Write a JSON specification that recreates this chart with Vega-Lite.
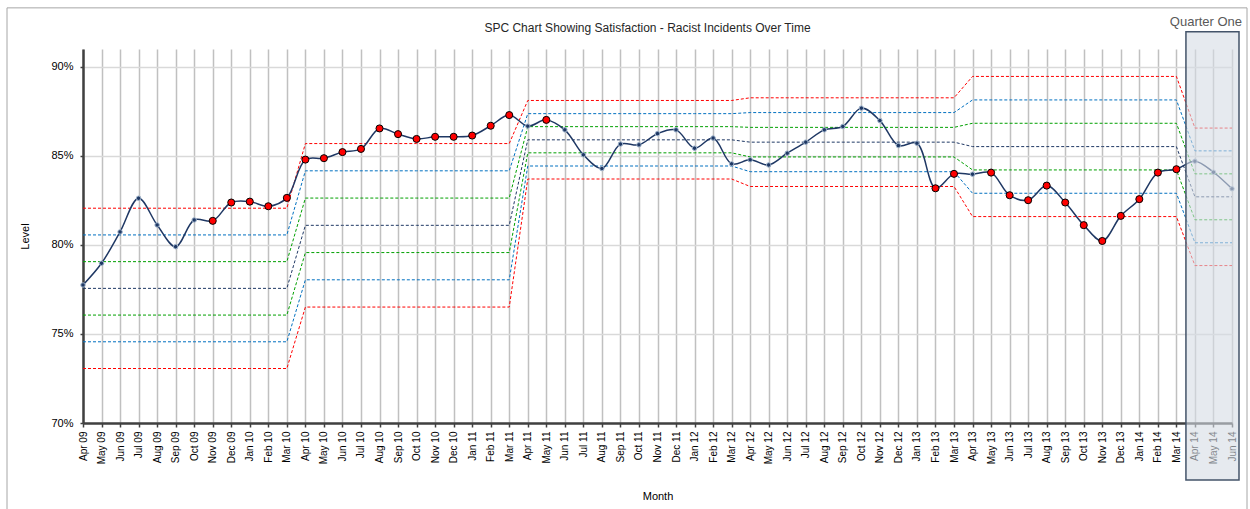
{
  "$schema": "https://vega.github.io/schema/vega-lite/v6.json",
  "width": 1149,
  "height": 374,
  "autosize": "none",
  "padding": {"left": 83, "top": 49, "right": 18, "bottom": 86},
  "background": "white",
  "config": {"view": {"stroke": null}, "font": "Liberation Sans"},
  "title": {"text": "SPC Chart Showing Satisfaction - Racist Incidents Over Time", "fontSize": 12, "font": "Liberation Sans", "fontWeight": "normal", "color": "#262626", "offset": 0, "dy": 28, "dx": -10},
  "datasets": {
    "spc": [
      {"month":"Apr 09","level":77.75,"flag":"n","UCL":82.06,"U2":80.56,"U1":79.06,"Mean":77.56,"L1":76.06,"L2":74.56,"LCL":73.06},
      {"month":"May 09","level":78.97,"flag":"n","UCL":82.06,"U2":80.56,"U1":79.06,"Mean":77.56,"L1":76.06,"L2":74.56,"LCL":73.06},
      {"month":"Jun 09","level":80.73,"flag":"n","UCL":82.06,"U2":80.56,"U1":79.06,"Mean":77.56,"L1":76.06,"L2":74.56,"LCL":73.06},
      {"month":"Jul 09","level":82.62,"flag":"n","UCL":82.06,"U2":80.56,"U1":79.06,"Mean":77.56,"L1":76.06,"L2":74.56,"LCL":73.06},
      {"month":"Aug 09","level":81.12,"flag":"n","UCL":82.06,"U2":80.56,"U1":79.06,"Mean":77.56,"L1":76.06,"L2":74.56,"LCL":73.06},
      {"month":"Sep 09","level":79.90,"flag":"n","UCL":82.06,"U2":80.56,"U1":79.06,"Mean":77.56,"L1":76.06,"L2":74.56,"LCL":73.06},
      {"month":"Oct 09","level":81.40,"flag":"n","UCL":82.06,"U2":80.56,"U1":79.06,"Mean":77.56,"L1":76.06,"L2":74.56,"LCL":73.06},
      {"month":"Nov 09","level":81.35,"flag":"r","UCL":82.06,"U2":80.56,"U1":79.06,"Mean":77.56,"L1":76.06,"L2":74.56,"LCL":73.06},
      {"month":"Dec 09","level":82.38,"flag":"r","UCL":82.06,"U2":80.56,"U1":79.06,"Mean":77.56,"L1":76.06,"L2":74.56,"LCL":73.06},
      {"month":"Jan 10","level":82.43,"flag":"r","UCL":82.06,"U2":80.56,"U1":79.06,"Mean":77.56,"L1":76.06,"L2":74.56,"LCL":73.06},
      {"month":"Feb 10","level":82.17,"flag":"r","UCL":82.06,"U2":80.56,"U1":79.06,"Mean":77.56,"L1":76.06,"L2":74.56,"LCL":73.06},
      {"month":"Mar 10","level":82.64,"flag":"r","UCL":82.06,"U2":80.56,"U1":79.06,"Mean":77.56,"L1":76.06,"L2":74.56,"LCL":73.06},
      {"month":"Apr 10","level":84.79,"flag":"r","UCL":85.69,"U2":84.16,"U1":82.63,"Mean":81.10,"L1":79.57,"L2":78.04,"LCL":76.51},
      {"month":"May 10","level":84.87,"flag":"r","UCL":85.69,"U2":84.16,"U1":82.63,"Mean":81.10,"L1":79.57,"L2":78.04,"LCL":76.51},
      {"month":"Jun 10","level":85.21,"flag":"r","UCL":85.69,"U2":84.16,"U1":82.63,"Mean":81.10,"L1":79.57,"L2":78.04,"LCL":76.51},
      {"month":"Jul 10","level":85.39,"flag":"r","UCL":85.69,"U2":84.16,"U1":82.63,"Mean":81.10,"L1":79.57,"L2":78.04,"LCL":76.51},
      {"month":"Aug 10","level":86.54,"flag":"r","UCL":85.69,"U2":84.16,"U1":82.63,"Mean":81.10,"L1":79.57,"L2":78.04,"LCL":76.51},
      {"month":"Sep 10","level":86.22,"flag":"r","UCL":85.69,"U2":84.16,"U1":82.63,"Mean":81.10,"L1":79.57,"L2":78.04,"LCL":76.51},
      {"month":"Oct 10","level":85.95,"flag":"r","UCL":85.69,"U2":84.16,"U1":82.63,"Mean":81.10,"L1":79.57,"L2":78.04,"LCL":76.51},
      {"month":"Nov 10","level":86.07,"flag":"r","UCL":85.69,"U2":84.16,"U1":82.63,"Mean":81.10,"L1":79.57,"L2":78.04,"LCL":76.51},
      {"month":"Dec 10","level":86.07,"flag":"r","UCL":85.69,"U2":84.16,"U1":82.63,"Mean":81.10,"L1":79.57,"L2":78.04,"LCL":76.51},
      {"month":"Jan 11","level":86.14,"flag":"r","UCL":85.69,"U2":84.16,"U1":82.63,"Mean":81.10,"L1":79.57,"L2":78.04,"LCL":76.51},
      {"month":"Feb 11","level":86.69,"flag":"r","UCL":85.69,"U2":84.16,"U1":82.63,"Mean":81.10,"L1":79.57,"L2":78.04,"LCL":76.51},
      {"month":"Mar 11","level":87.29,"flag":"r","UCL":85.69,"U2":84.16,"U1":82.63,"Mean":81.10,"L1":79.57,"L2":78.04,"LCL":76.51},
      {"month":"Apr 11","level":86.67,"flag":"n","UCL":88.11,"U2":87.37,"U1":86.64,"Mean":85.90,"L1":85.17,"L2":84.43,"LCL":83.70},
      {"month":"May 11","level":87.02,"flag":"r","UCL":88.11,"U2":87.37,"U1":86.64,"Mean":85.90,"L1":85.17,"L2":84.43,"LCL":83.70},
      {"month":"Jun 11","level":86.46,"flag":"n","UCL":88.11,"U2":87.37,"U1":86.64,"Mean":85.90,"L1":85.17,"L2":84.43,"LCL":83.70},
      {"month":"Jul 11","level":85.06,"flag":"n","UCL":88.11,"U2":87.37,"U1":86.64,"Mean":85.90,"L1":85.17,"L2":84.43,"LCL":83.70},
      {"month":"Aug 11","level":84.29,"flag":"n","UCL":88.11,"U2":87.37,"U1":86.64,"Mean":85.90,"L1":85.17,"L2":84.43,"LCL":83.70},
      {"month":"Sep 11","level":85.66,"flag":"n","UCL":88.11,"U2":87.37,"U1":86.64,"Mean":85.90,"L1":85.17,"L2":84.43,"LCL":83.70},
      {"month":"Oct 11","level":85.62,"flag":"n","UCL":88.11,"U2":87.37,"U1":86.64,"Mean":85.90,"L1":85.17,"L2":84.43,"LCL":83.70},
      {"month":"Nov 11","level":86.25,"flag":"n","UCL":88.11,"U2":87.37,"U1":86.64,"Mean":85.90,"L1":85.17,"L2":84.43,"LCL":83.70},
      {"month":"Dec 11","level":86.46,"flag":"n","UCL":88.11,"U2":87.37,"U1":86.64,"Mean":85.90,"L1":85.17,"L2":84.43,"LCL":83.70},
      {"month":"Jan 12","level":85.43,"flag":"n","UCL":88.11,"U2":87.37,"U1":86.64,"Mean":85.90,"L1":85.17,"L2":84.43,"LCL":83.70},
      {"month":"Feb 12","level":86.00,"flag":"n","UCL":88.11,"U2":87.37,"U1":86.64,"Mean":85.90,"L1":85.17,"L2":84.43,"LCL":83.70},
      {"month":"Mar 12","level":84.55,"flag":"n","UCL":88.11,"U2":87.37,"U1":86.64,"Mean":85.90,"L1":85.17,"L2":84.43,"LCL":83.70},
      {"month":"Apr 12","level":84.78,"flag":"n","UCL":88.26,"U2":87.43,"U1":86.60,"Mean":85.77,"L1":84.94,"L2":84.11,"LCL":83.28},
      {"month":"May 12","level":84.49,"flag":"n","UCL":88.26,"U2":87.43,"U1":86.60,"Mean":85.77,"L1":84.94,"L2":84.11,"LCL":83.28},
      {"month":"Jun 12","level":85.15,"flag":"n","UCL":88.26,"U2":87.43,"U1":86.60,"Mean":85.77,"L1":84.94,"L2":84.11,"LCL":83.28},
      {"month":"Jul 12","level":85.77,"flag":"n","UCL":88.26,"U2":87.43,"U1":86.60,"Mean":85.77,"L1":84.94,"L2":84.11,"LCL":83.28},
      {"month":"Aug 12","level":86.46,"flag":"n","UCL":88.26,"U2":87.43,"U1":86.60,"Mean":85.77,"L1":84.94,"L2":84.11,"LCL":83.28},
      {"month":"Sep 12","level":86.65,"flag":"n","UCL":88.26,"U2":87.43,"U1":86.60,"Mean":85.77,"L1":84.94,"L2":84.11,"LCL":83.28},
      {"month":"Oct 12","level":87.68,"flag":"n","UCL":88.26,"U2":87.43,"U1":86.60,"Mean":85.77,"L1":84.94,"L2":84.11,"LCL":83.28},
      {"month":"Nov 12","level":86.98,"flag":"n","UCL":88.26,"U2":87.43,"U1":86.60,"Mean":85.77,"L1":84.94,"L2":84.11,"LCL":83.28},
      {"month":"Dec 12","level":85.58,"flag":"n","UCL":88.26,"U2":87.43,"U1":86.60,"Mean":85.77,"L1":84.94,"L2":84.11,"LCL":83.28},
      {"month":"Jan 13","level":85.71,"flag":"n","UCL":88.26,"U2":87.43,"U1":86.60,"Mean":85.77,"L1":84.94,"L2":84.11,"LCL":83.28},
      {"month":"Feb 13","level":83.18,"flag":"r","UCL":88.26,"U2":87.43,"U1":86.60,"Mean":85.77,"L1":84.94,"L2":84.11,"LCL":83.28},
      {"month":"Mar 13","level":83.99,"flag":"r","UCL":88.26,"U2":87.43,"U1":86.60,"Mean":85.77,"L1":84.94,"L2":84.11,"LCL":83.28},
      {"month":"Apr 13","level":83.97,"flag":"n","UCL":89.46,"U2":88.14,"U1":86.83,"Mean":85.52,"L1":84.21,"L2":82.90,"LCL":81.59},
      {"month":"May 13","level":84.06,"flag":"r","UCL":89.46,"U2":88.14,"U1":86.83,"Mean":85.52,"L1":84.21,"L2":82.90,"LCL":81.59},
      {"month":"Jun 13","level":82.79,"flag":"r","UCL":89.46,"U2":88.14,"U1":86.83,"Mean":85.52,"L1":84.21,"L2":82.90,"LCL":81.59},
      {"month":"Jul 13","level":82.51,"flag":"r","UCL":89.46,"U2":88.14,"U1":86.83,"Mean":85.52,"L1":84.21,"L2":82.90,"LCL":81.59},
      {"month":"Aug 13","level":83.33,"flag":"r","UCL":89.46,"U2":88.14,"U1":86.83,"Mean":85.52,"L1":84.21,"L2":82.90,"LCL":81.59},
      {"month":"Sep 13","level":82.38,"flag":"r","UCL":89.46,"U2":88.14,"U1":86.83,"Mean":85.52,"L1":84.21,"L2":82.90,"LCL":81.59},
      {"month":"Oct 13","level":81.11,"flag":"r","UCL":89.46,"U2":88.14,"U1":86.83,"Mean":85.52,"L1":84.21,"L2":82.90,"LCL":81.59},
      {"month":"Nov 13","level":80.22,"flag":"r","UCL":89.46,"U2":88.14,"U1":86.83,"Mean":85.52,"L1":84.21,"L2":82.90,"LCL":81.59},
      {"month":"Dec 13","level":81.63,"flag":"r","UCL":89.46,"U2":88.14,"U1":86.83,"Mean":85.52,"L1":84.21,"L2":82.90,"LCL":81.59},
      {"month":"Jan 14","level":82.57,"flag":"r","UCL":89.46,"U2":88.14,"U1":86.83,"Mean":85.52,"L1":84.21,"L2":82.90,"LCL":81.59},
      {"month":"Feb 14","level":84.06,"flag":"r","UCL":89.46,"U2":88.14,"U1":86.83,"Mean":85.52,"L1":84.21,"L2":82.90,"LCL":81.59},
      {"month":"Mar 14","level":84.25,"flag":"r","UCL":89.46,"U2":88.14,"U1":86.83,"Mean":85.52,"L1":84.21,"L2":82.90,"LCL":81.59},
      {"month":"Apr 14","level":84.70,"flag":"n","UCL":86.56,"U2":85.28,"U1":83.99,"Mean":82.70,"L1":81.41,"L2":80.12,"LCL":78.84},
      {"month":"May 14","level":84.08,"flag":"n","UCL":86.56,"U2":85.28,"U1":83.99,"Mean":82.70,"L1":81.41,"L2":80.12,"LCL":78.84},
      {"month":"Jun 14","level":83.15,"flag":"n","UCL":86.56,"U2":85.28,"U1":83.99,"Mean":82.70,"L1":81.41,"L2":80.12,"LCL":78.84}
    ],
    "box": [{"month":"Apr 14","month_end":"Jun 14","level":91.97,"level_end":66.8,"label":"Quarter One"}],
    "frame": [{"month":"Apr 09","month_end":"Jun 14","level":93.31,"level_end":64.5}]
  },
  "encoding": {
    "x": {
      "field": "month", "type": "ordinal", "sort": null,
      "scale": {"type": "point", "padding": 0, "domain": ["Apr 09","May 09","Jun 09","Jul 09","Aug 09","Sep 09","Oct 09","Nov 09","Dec 09","Jan 10","Feb 10","Mar 10","Apr 10","May 10","Jun 10","Jul 10","Aug 10","Sep 10","Oct 10","Nov 10","Dec 10","Jan 11","Feb 11","Mar 11","Apr 11","May 11","Jun 11","Jul 11","Aug 11","Sep 11","Oct 11","Nov 11","Dec 11","Jan 12","Feb 12","Mar 12","Apr 12","May 12","Jun 12","Jul 12","Aug 12","Sep 12","Oct 12","Nov 12","Dec 12","Jan 13","Feb 13","Mar 13","Apr 13","May 13","Jun 13","Jul 13","Aug 13","Sep 13","Oct 13","Nov 13","Dec 13","Jan 14","Feb 14","Mar 14","Apr 14","May 14","Jun 14"]},
      "axis": {"title": "Month", "labelAngle": 270, "labelFontSize": 10, "labelFont": "Liberation Sans", "labelColor": "#000000", "labelPadding": 4, "tickSize": 4, "tickColor": "#404040", "tickWidth": 1.5, "domainColor": "#404040", "domainWidth": 2.5, "grid": true, "gridColor": "#c0c0c0", "gridWidth": 1.5, "titleFontSize": 11, "titleFontWeight": "normal", "titleFont": "Liberation Sans", "titleColor": "#000000", "titleY": 73, "titleBaseline": "middle", "zindex": 0}
    },
    "y": {
      "field": "level", "type": "quantitative",
      "scale": {"domain": [70, 91], "nice": false, "zero": false},
      "axis": {"title": "Level", "values": [70, 75, 80, 85, 90], "labelExpr": "datum.value + '%'", "labelFontSize": 11, "labelFont": "Liberation Sans", "labelColor": "#000000", "labelPadding": 7, "tickSize": 3, "tickColor": "#404040", "tickWidth": 1.5, "domainColor": "#404040", "domainWidth": 2.5, "grid": true, "gridColor": "#d9d9d9", "gridWidth": 1.5, "titleFontSize": 11, "titleFontWeight": "normal", "titleFont": "Liberation Sans", "titleColor": "#000000", "titleX": -58, "titleY": 187, "titleAngle": 270, "titleAlign": "center", "titleBaseline": "middle", "zindex": 0}
    }
  },
  "layer": [
    {
      "data": {"name": "spc"},
      "transform": [{"fold": ["UCL","U2","U1","Mean","L1","L2","LCL"], "as": ["line","level"]}],
      "mark": {"type": "line", "strokeWidth": 1, "strokeDash": [3, 2]},
      "encoding": {
        "color": {"field": "line", "type": "nominal", "legend": null, "scale": {"domain": ["UCL","U2","U1","Mean","L1","L2","LCL"], "range": ["#FF0000","#0070C0","#00A000","#1F3864","#00A000","#0070C0","#FF0000"]}}
      }
    },
    {
      "data": {"name": "spc"},
      "mark": {"type": "line", "interpolate": "catmull-rom", "color": "#1F3864", "strokeWidth": 1.5},
      "encoding": {}
    },
    {
      "data": {"name": "spc"},
      "transform": [{"filter": "datum.flag == 'n'"}],
      "mark": {"type": "circle", "size": 20, "fill": "#1F3864", "stroke": "#9FB3CB", "strokeWidth": 1, "opacity": 1}
    },
    {
      "data": {"name": "spc"},
      "transform": [{"filter": "datum.flag == 'r'"}],
      "mark": {"type": "circle", "size": 50, "fill": "#FF0000", "stroke": "#000000", "strokeWidth": 1, "opacity": 1}
    },
    {
      "data": {"name": "box"},
      "mark": {"type": "rect", "fill": "#D6DCE4", "fillOpacity": 0.6, "stroke": "#44546A", "strokeWidth": 1.5, "xOffset": -9, "x2Offset": 7},
      "encoding": {
        "x2": {"field": "month_end"},
        "y2": {"field": "level_end"}
      }
    },
    {
      "data": {"name": "box"},
      "mark": {"type": "text", "fontSize": 13, "font": "Liberation Sans", "color": "#595959", "dx": 11, "dy": -10, "align": "center", "baseline": "middle"},
      "encoding": {
        "text": {"field": "label"}
      }
    },
    {
      "data": {"name": "frame"},
      "mark": {"type": "rect", "fill": null, "fillOpacity": 0, "stroke": "#A6A6A6", "strokeWidth": 1, "xOffset": -76, "x2Offset": 15},
      "encoding": {
        "x2": {"field": "month_end"},
        "y2": {"field": "level_end"}
      }
    }
  ]
}
